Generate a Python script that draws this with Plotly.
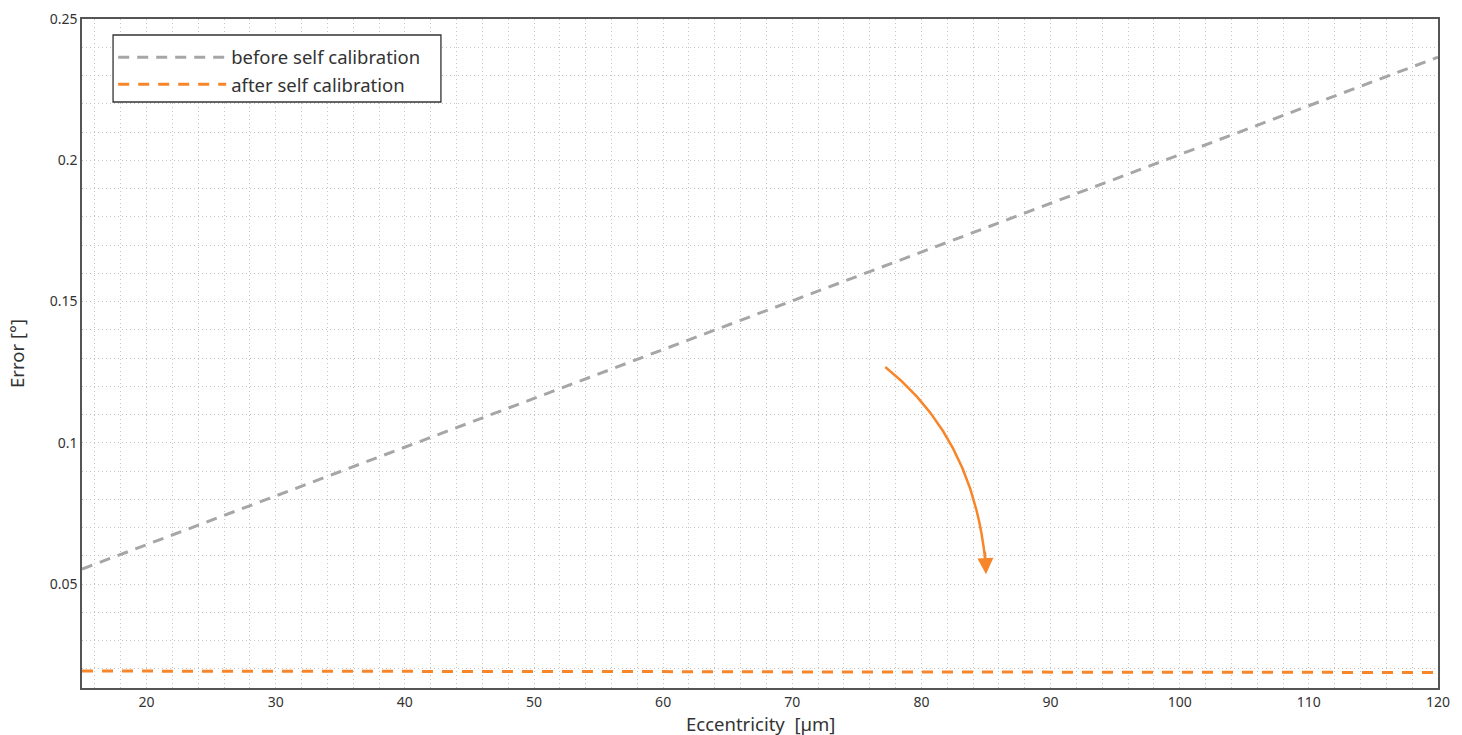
import plotly.graph_objects as go

# Data
eccentricity = [15, 20, 30, 40, 50, 60, 70, 80, 90, 100, 110, 120]
err_before = [0.0553, 0.0639, 0.0812, 0.0985, 0.1157, 0.1330, 0.1502, 0.1675, 0.1848, 0.2020, 0.2193, 0.2365]
err_after = [0.0192, 0.0192, 0.0191, 0.0191, 0.0190, 0.0190, 0.0189, 0.0189, 0.0188, 0.0188, 0.0187, 0.0187]

name_before = "before self calibration"
name_after = "after self calibration"
x_title = "Eccentricity  [µm]"
y_title = "Error [°]"

GRAY = "#a6a6a6"
ORANGE = "#f7862a"

fig = go.Figure()
fig.add_trace(go.Scatter(x=eccentricity, y=err_before, mode="lines", name=name_before,
                         line=dict(color=GRAY, width=3, dash="11px,8px")))
fig.add_trace(go.Scatter(x=eccentricity, y=err_after, mode="lines", name=name_after,
                         line=dict(color=ORANGE, width=3, dash="11px,9px")))

# curved arrow
arrow_start = (77.2, 0.1268)
arrow_ctrl = (84.0, 0.102)
arrow_end = (84.95, 0.058)
fig.add_shape(type="path",
              path=f"M {arrow_start[0]},{arrow_start[1]} Q {arrow_ctrl[0]},{arrow_ctrl[1]} {arrow_end[0]},{arrow_end[1]}",
              xref="x", yref="y", line=dict(color=ORANGE, width=2.5))
fig.add_annotation(x=85.0, y=0.0535, ax=84.93, ay=0.062, xref="x", yref="y", axref="x", ayref="y",
                   showarrow=True, arrowhead=2, arrowsize=1.6, arrowwidth=2, arrowcolor=ORANGE, text="")

# legend frame (white box behind the transparent legend)
fig.add_shape(type="rect", xref="paper", yref="paper", x0=0.0229, x1=0.2647, y0=0.8759, y1=0.9761,
              line=dict(color="#333", width=1.3), fillcolor="white", layer="above")

# x axis title
fig.add_annotation(text=x_title, xref="paper", yref="paper", x=0.5, y=-0.0538, yanchor="middle",
                   showarrow=False, font=dict(size=18.5, color="#333"))

GRID = dict(gridcolor="#c4c4c4", griddash="1px,3px", gridwidth=1)
fig.update_xaxes(range=[15, 120], dtick=10, tick0=0, showline=True, mirror=True, linecolor="#555",
                 linewidth=1.5, ticks="", zeroline=False, automargin=False, showgrid=True,
                 tickfont=dict(size=14, color="#333"),
                 minor=dict(dtick=2, showgrid=True, **GRID),
                 **GRID)
fig.update_yaxes(range=[0.0132, 0.25], dtick=0.05, tick0=0, showline=True, mirror=True, linecolor="#555",
                 linewidth=1.5, ticks="", zeroline=False, automargin=False, showgrid=True,
                 title=dict(text=y_title, font=dict(size=18.5, color="#333"), standoff=20),
                 tickfont=dict(size=14, color="#333"),
                 minor=dict(dtick=0.01, showgrid=True, **GRID),
                 **GRID)

fig.update_layout(
    width=1462, height=735,
    margin=dict(l=82, r=24, t=19, b=47),
    paper_bgcolor="white", plot_bgcolor="white",
    font=dict(family="Noto Sans, Open Sans, sans-serif", color="#333"),
    showlegend=True,
    legend=dict(x=0.023, y=0.9705, xanchor="left", yanchor="top",
                bgcolor="rgba(0,0,0,0)", borderwidth=0,
                font=dict(size=18.5, color="#333"), itemwidth=108, tracegroupgap=0),
)

fig.write_html("out.html", config={"displayModeBar": False},
               post_script="document.body.style.margin='0';document.body.style.overflow='hidden';")
